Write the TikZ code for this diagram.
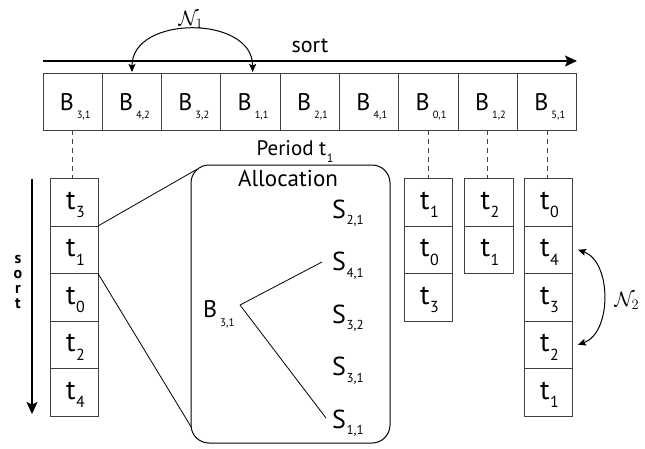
\documentclass[tikz,border=0pt]{standalone}
\usepackage[no-math]{fontspec}
\setmainfont{PT Sans}
\usetikzlibrary{arrows.meta,calc}
% text, size, drop, kern
\newcommand\subsc[4]{\kern#4pt\raisebox{-#3pt}{\fontsize{#2pt}{#2pt}\selectfont #1}}
\newcommand\lblB[1]{B\subsc{#1}{10.5}{8}{3}}
\newcommand\lblBa[1]{B\subsc{#1}{11}{9.4}{3}}
\newcommand\lblT[1]{t\subsc{#1}{16}{8.5}{0.5}}
\newcommand\lblS[1]{S\subsc{#1}{13}{6.5}{0.5}}
\begin{document}
\begin{tikzpicture}[x=1pt,y=-1pt,
  box/.style={draw=black!75, line width=1pt, minimum width=59.33pt, minimum height=57pt, inner sep=0pt, outer sep=0pt},
  cell/.style={draw=black!75, line width=1pt, minimum width=48pt, minimum height=47.5pt, inner sep=0pt, outer sep=0pt},
  blab/.style={anchor=base, inner sep=0pt, font=\fontsize{24pt}{24pt}\selectfont},
  tlab/.style={anchor=base, inner sep=0pt, font=\fontsize{28pt}{28pt}\selectfont},
  slab/.style={anchor=base west, inner sep=0pt, font=\fontsize{26pt}{26pt}\selectfont},
  vlab/.style={anchor=base, inner sep=0pt, font=\bfseries\fontsize{16pt}{16pt}\selectfont},
  dashedline/.style={draw=black!75, line width=1pt, dash pattern=on 5pt off 4pt},
  thinline/.style={draw=black, line width=0.8pt},
  arr/.style={-{Stealth[length=12pt,width=11pt,inset=2.5pt]}, line width=1.3pt},
  smallarr/.style={{Stealth[length=8pt,width=7pt,inset=1.5pt]}-{Stealth[length=8pt,width=7pt,inset=1.5pt]}, line width=1pt},
  alloc/.style={draw=black, line width=1pt, rounded corners=18pt, minimum width=199pt, minimum height=278pt, inner sep=0pt}
]
\useasboundingbox (0,0) rectangle (645,448);

% top row of B boxes
\foreach \bsub [count=\i] in {{3,1},{4,2},{3,2},{1,1},{2,1},{4,1},{0,1},{1,2},{5,1}} {
  \node[box] (b\i) at ({43+59.33*(\i-0.5)},101.5) {};
  \node[blab] (bl\i) at ($(b\i.center)+(2.5,8.5)$) {\lblB{\bsub}};
}

% sort arrow (top)
\draw[arr] ($(b1.north west)+(0,-12)$) -- ($(b9.north east)+(0,-12)$);
\node[anchor=base, inner sep=0pt, font=\fontsize{22pt}{22pt}\selectfont] (sorttop) at (310,52.7) {sort};

% N1
\draw[smallarr] ($(b2.north)+(0,-1)$) .. controls +(0,-57) and +(0,-57) .. ($(b4.north)+(2,-1)$);
\node[inner sep=0pt, font=\fontsize{21pt}{21pt}\selectfont] (n1lab) at (191,20) {$\mathcal{N}_1$};

% left column
\foreach \s [count=\i] in {3,1,0,2,4} {
  \node[cell] (l\i) at (74,{178.5+47.5*(\i-0.5)}) {};
  \node[tlab] (ll\i) at ($(l\i.center)+(1.5,7)$) {\lblT{\s}};
}
% column under B0,1
\foreach \s [count=\i] in {1,0,3} {
  \node[cell] (m\i) at (428,{178.5+47.5*(\i-0.5)}) {};
  \node[tlab] (ml\i) at ($(m\i.center)+(1.5,7)$) {\lblT{\s}};
}
% column under B1,2
\foreach \s [count=\i] in {2,1} {
  \node[cell, minimum width=49pt] (n\i) at (488.5,{178.5+47.5*(\i-0.5)}) {};
  \node[tlab] (nl\i) at ($(n\i.center)+(1.5,7)$) {\lblT{\s}};
}
% column under B5,1
\foreach \s [count=\i] in {0,4,3,2,1} {
  \node[cell] (r\i) at (548,{178.5+47.5*(\i-0.5)}) {};
  \node[tlab] (rl\i) at ($(r\i.center)+(1.5,7)$) {\lblT{\s}};
}

% dashed links
\draw[dashedline] (b1.south) -- (b1.south |- l1.north);
\draw[dashedline] (b7.south) -- (b7.south |- m1.north);
\draw[dashedline] (b8.south) -- (b8.south |- n1.north);
\draw[dashedline] (b9.south) -- (b9.south |- r1.north);

% left sort arrow
\draw[arr] ($(l1.north west)+(-18,0)$) -- ($(l5.south west)+(-18,-2)$);
\node[vlab] (vs1) at (18,263) {s};
\node[vlab] (vs2) at (18,278) {o};
\node[vlab] (vs3) at (18,293) {r};
\node[vlab] (vs4) at (18,308) {t};

% N2
\draw[smallarr] ($(r2.east)+(6,0)$) .. controls +(34,12) and +(34,-12) .. ($(r4.east)+(6,0)$);
\node[inner sep=0pt, font=\fontsize{21pt}{21pt}\selectfont] (n2lab) at (627,301) {$\mathcal{N}_2$};

% period and allocation
\node[anchor=base, inner sep=0pt, font=\fontsize{21pt}{21pt}\selectfont] (period) at (295,155) {Period t\subsc{1}{12}{7.5}{0.5}};
\node[alloc] (alloc) at (290.5,304) {};
\node[anchor=base, inner sep=0pt, font=\fontsize{23pt}{23pt}\selectfont] (alloctxt) at (288,186) {Allocation};

% zoom lines
\draw[thinline] (l2.north east) -- ($(alloc.north west)+(6,5)$);
\draw[thinline] (l2.south east) -- ($(alloc.south west)+(1,-16)$);

% allocation tree
\node[anchor=base west, inner sep=0pt, font=\fontsize{24pt}{24pt}\selectfont] (root) at (203,317.3) {\lblBa{3,1}};
\coordinate (apex) at (240,305);
\foreach \ssub [count=\i] in {{2,1},{4,1},{3,2},{3,1},{1,1}} {
  \node[slab] (s\i) at (332,{218+52.5*(\i-1)}) {\lblS{\ssub}};
}
\draw[thinline] (apex) -- ($(s2.base west)+(-10,-8.5)$);
\draw[thinline] (apex) -- ($(s5.base west)+(-6,-10)$);
\end{tikzpicture}
\end{document}
